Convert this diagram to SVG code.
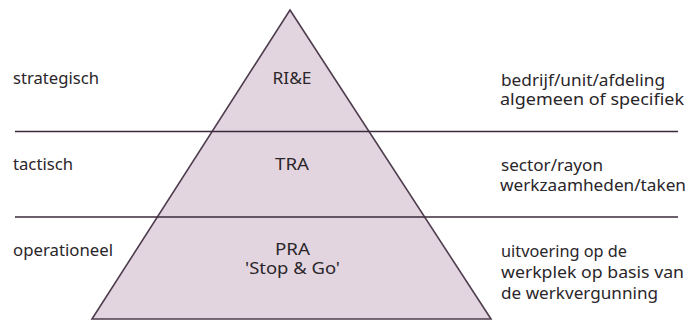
<svg xmlns="http://www.w3.org/2000/svg" width="691" height="322" viewBox="0 0 691 322">
<style>
.t{font-family:"Noto Sans","Open Sans","DejaVu Sans",sans-serif;font-size:17px;fill:#2a262a}
.c{text-anchor:middle}
.div{stroke:#3b2a3b;stroke-width:1.6;fill:none}
.pyr{fill:#e3d5df;stroke:#4e3d4e;stroke-width:1.6;stroke-linejoin:miter}
</style>
<rect width="691" height="322" fill="#ffffff"/>
<g id="pyramid">
<polygon class="pyr" points="290,10 491,319 92,319"/>
</g>
<g id="connectors">
<line class="div" x1="15" y1="131.5" x2="678" y2="131.5"/>
<line class="div" x1="15" y1="217" x2="678" y2="217"/>
</g>
<g id="level-strategisch">
<text class="t" x="13" y="84" textLength="86" lengthAdjust="spacingAndGlyphs">strategisch</text>
<text class="t c" x="292" y="84" textLength="39" lengthAdjust="spacingAndGlyphs">RI&amp;E</text>
<text class="t" x="501" y="86" textLength="164" lengthAdjust="spacingAndGlyphs">bedrijf/unit/afdeling</text>
<text class="t" x="500" y="105" textLength="184" lengthAdjust="spacingAndGlyphs">algemeen of specifiek</text>
</g>
<g id="level-tactisch">
<text class="t" x="13" y="170" textLength="60" lengthAdjust="spacingAndGlyphs">tactisch</text>
<text class="t c" x="292" y="170" textLength="34" lengthAdjust="spacingAndGlyphs">TRA</text>
<text class="t" x="501" y="171" textLength="102" lengthAdjust="spacingAndGlyphs">sector/rayon</text>
<text class="t" x="500" y="191" textLength="186" lengthAdjust="spacingAndGlyphs">werkzaamheden/taken</text>
</g>
<g id="level-operationeel">
<text class="t" x="13" y="256" textLength="100" lengthAdjust="spacingAndGlyphs">operationeel</text>
<text class="t c" x="292.5" y="255" textLength="35" lengthAdjust="spacingAndGlyphs">PRA</text>
<text class="t c" x="292.5" y="274" textLength="95" lengthAdjust="spacingAndGlyphs">'Stop &amp; Go'</text>
<text class="t" x="501" y="257" textLength="126" lengthAdjust="spacingAndGlyphs">uitvoering op de</text>
<text class="t" x="501" y="278" textLength="183" lengthAdjust="spacingAndGlyphs">werkplek op basis van</text>
<text class="t" x="501" y="299" textLength="157" lengthAdjust="spacingAndGlyphs">de werkvergunning</text>
</g>
</svg>
